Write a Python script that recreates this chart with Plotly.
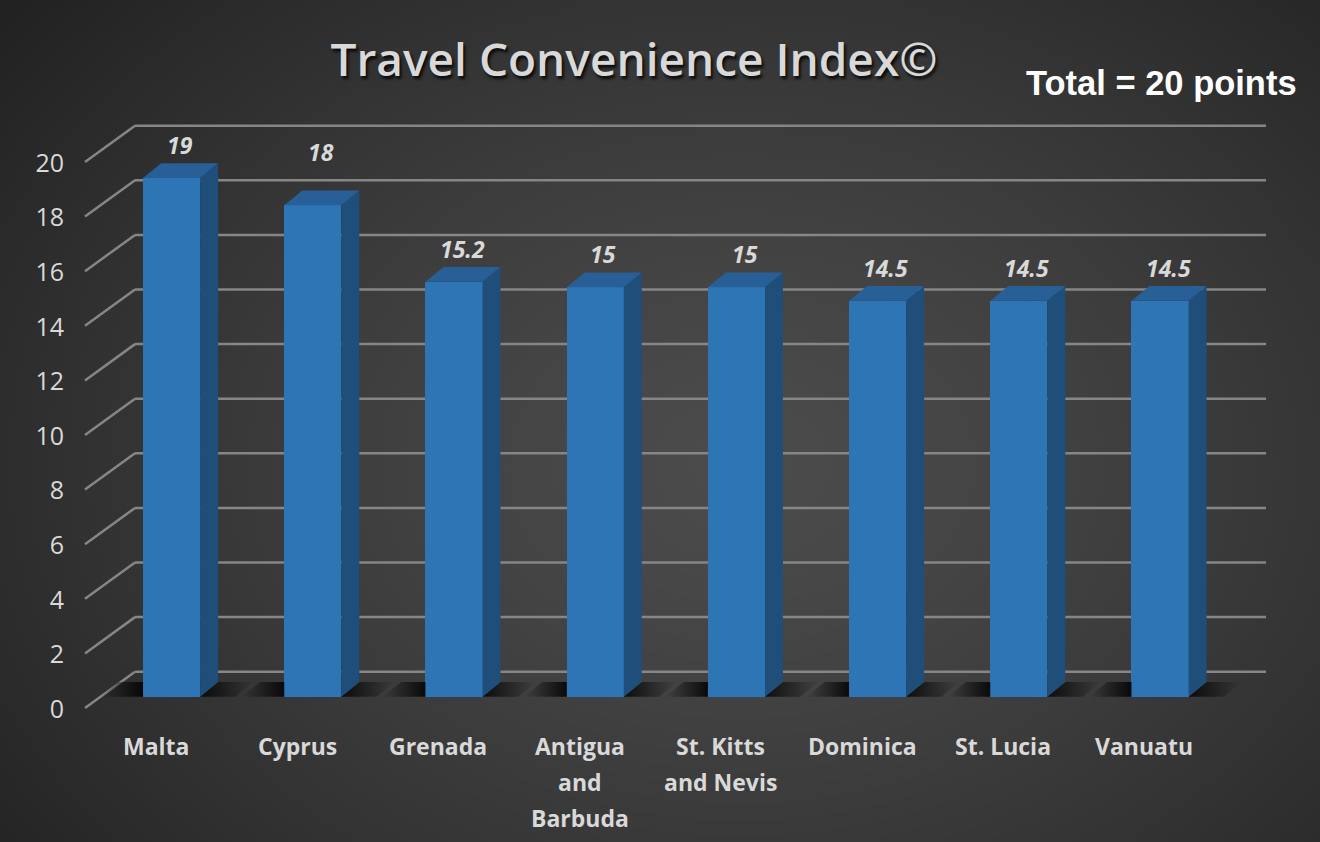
import base64
import struct
import zlib

import numpy as np
import plotly.graph_objects as go

# ---------------- data ----------------
countries = ["Malta", "Cyprus", "Grenada", "Antigua\nand\nBarbuda", "St. Kitts\nand Nevis",
             "Dominica", "St. Lucia", "Vanuatu"]
scores = [19, 18, 15.2, 15, 15, 14.5, 14.5, 14.5]
score_labels = ["19", "18", "15.2", "15", "15", "14.5", "14.5", "14.5"]
y_ticks = [0, 2, 4, 6, 8, 10, 12, 14, 16, 18, 20]
title_text = "Travel Convenience Index©"
note_text = "Total = 20 points"

# ---------------- layout geometry ----------------
W, H = 1320, 842
L, R, T, B = 80, 40, 100, 122
PW, PH = W - L - R, H - T - B
CAT_PX = 141.2          # pixels per category
UNIT_PX = 27.3          # pixels per value unit
X0_PX = 171.6           # pixel of first category centre
Y0_PX = 696.7           # pixel of bar base
x_range = [(L - X0_PX) / CAT_PX, (W - R - X0_PX) / CAT_PX]
y_range = [-(T + PH - Y0_PX) / UNIT_PX, (Y0_PX - T) / UNIT_PX]
LABEL_SHIFT = 0.45
y2_range = [y_range[0] + LABEL_SHIFT, y_range[1] + LABEL_SHIFT]

BAR_W = 0.404
DX, DY = 0.1275, 0.54   # 3D depth offset
BACK, FRONT = 0.915, -0.414
X_WALL = (135 - X0_PX) / CAT_PX
X_FRONT = (85 - X0_PX) / CAT_PX
X_END = (1266 - X0_PX) / CAT_PX

# label placement tweaks (pixels above the bar top), as in the original chart
LABEL_GAP = 18
LABEL_EXTRA = {"Cyprus": 21}

FRONT_C = "#2E75B6"
SIDE_C = "#1F4E7A"
TOP_C = "#275F96"
TEXT_C = "#D9D9D9"
GRID_C = "#868686"


def px_to_paper_x(px):
    return (px - L) / PW


def px_to_paper_y(py):
    return (T + PH - py) / PH


# ---------------- background image (radial gradient) ----------------
def png_uri(arr):
    h, w, _ = arr.shape
    raw = b"".join(b"\x00" + arr[i].tobytes() for i in range(h))

    def chunk(tag, data):
        return (struct.pack(">I", len(data)) + tag + data +
                struct.pack(">I", zlib.crc32(tag + data) & 0xFFFFFFFF))

    png = (b"\x89PNG\r\n\x1a\n" +
           chunk(b"IHDR", struct.pack(">IIBBBBB", w, h, 8, 2, 0, 0, 0)) +
           chunk(b"IDAT", zlib.compress(raw, 9)) + chunk(b"IEND", b""))
    return "data:image/png;base64," + base64.b64encode(png).decode()


gw, gh = 330, 210
yy, xx = np.mgrid[0:gh, 0:gw]
u = (xx / gw - 0.56) / 0.72
v = (yy / gh - 0.55) / 0.85
r = np.clip(np.sqrt(u ** 2 + v ** 2), 0, 1)
c = (76 - 42 * r ** 1.3).astype(np.uint8)
bg = np.stack([c, c, c], axis=-1).astype(np.uint8)
bg_uri = png_uri(bg)

# ---------------- figure ----------------
fig = go.Figure()
xs = list(range(len(scores)))

# floor shadows
for i, s in zip(xs, scores):
    xl = i - BAR_W / 2
    xr = i + BAR_W / 2
    # left shadow
    fig.add_trace(go.Scatter(
        x=[xl - 0.3, xl, xl, xl - 0.3 + DX, xl - 0.3],
        y=[0, 0, DY, DY, 0], mode="lines", line=dict(width=0), fill="toself",
        fillgradient=dict(type="horizontal",
                          colorscale=[[0, "rgba(0,0,0,0)"], [1, "rgba(0,0,0,0.85)"]]),
        hoverinfo="skip", showlegend=False))
    # right shadow
    fig.add_trace(go.Scatter(
        x=[xr, xr + 0.25, xr + 0.25 + DX, xr + DX, xr],
        y=[0, 0, DY, DY, 0], mode="lines", line=dict(width=0), fill="toself",
        fillgradient=dict(type="horizontal",
                          colorscale=[[0, "rgba(0,0,0,0.8)"], [1, "rgba(0,0,0,0)"]]),
        hoverinfo="skip", showlegend=False))

# front faces
fig.add_trace(go.Bar(x=xs, y=scores, width=BAR_W, marker=dict(color=FRONT_C, line=dict(width=0)),
                     hoverinfo="skip", showlegend=False))

# side and top faces
sx, sy = [], []
tx, ty = [], []
for i, s in zip(xs, scores):
    xr = i + BAR_W / 2
    xl = i - BAR_W / 2
    sx += [xr, xr + DX, xr + DX, xr, xr, None]
    sy += [0, DY, s + DY, s, 0, None]
    tx += [xl, xr, xr + DX, xl + DX, xl, None]
    ty += [s, s, s + DY, s + DY, s, None]
fig.add_trace(go.Scatter(x=sx, y=sy, mode="lines", line=dict(width=0), fill="toself",
                         fillcolor=SIDE_C, hoverinfo="skip", showlegend=False))
fig.add_trace(go.Scatter(x=tx, y=ty, mode="lines", line=dict(width=0), fill="toself",
                         fillcolor=TOP_C, hoverinfo="skip", showlegend=False))

# dummy trace for tick-label axis
fig.add_trace(go.Scatter(x=[0], y=[0], yaxis="y2", mode="markers", opacity=0,
                         hoverinfo="skip", showlegend=False))

# gridlines (back wall + side wall diagonals)
shapes = []
for t in y_ticks:
    shapes.append(dict(type="line", xref="x", yref="y", x0=X_WALL, y0=t + BACK,
                       x1=X_END, y1=t + BACK, line=dict(color=GRID_C, width=2.5), layer="below"))
    shapes.append(dict(type="line", xref="x", yref="y", x0=X_FRONT, y0=t + FRONT,
                       x1=X_WALL, y1=t + BACK, line=dict(color=GRID_C, width=2.5), layer="below"))

annotations = []
# value labels
for i, s, lab, name in zip(xs, scores, score_labels, countries):
    annotations.append(dict(
        x=i + DX * 0.45, xref="x", y=s + DY, yref="y", text=lab, showarrow=False,
        xanchor="center", yanchor="middle",
        yshift=LABEL_GAP + LABEL_EXTRA.get(name, 0),
        font=dict(family="Open Sans", size=23, color=TEXT_C, weight="bold", style="italic")))

# category labels
LINE_H = 36
for i, name in zip(xs, countries):
    for k, line in enumerate(name.split("\n")):
        annotations.append(dict(
            x=i - 0.11, xref="x", y=px_to_paper_y(746), yref="paper",
            text=line, showarrow=False, xanchor="center", yanchor="middle",
            yshift=-LINE_H * k,
            font=dict(family="Open Sans", size=23, color=TEXT_C, weight="bold")))

annotations.append(dict(
    x=px_to_paper_x(1161), xref="paper", y=px_to_paper_y(83), yref="paper",
    text=note_text, showarrow=False, xanchor="center", yanchor="middle",
    font=dict(family="Liberation Sans", size=34.5, color="#FFFFFF", weight="bold")))

fig.update_layout(
    width=W, height=H, autosize=False,
    margin=dict(l=L, r=R, t=T, b=B),
    paper_bgcolor="#333333", plot_bgcolor="rgba(0,0,0,0)",
    title=dict(text=title_text, x=634 / W, xref="container", xanchor="center",
               y=1 - 60 / H, yref="container", yanchor="middle",
               font=dict(family="Open Sans", size=46, color=TEXT_C, weight=600,
                         shadow="2px 3px 3px rgba(0,0,0,0.8)")),
    xaxis=dict(range=x_range, visible=False, fixedrange=True),
    yaxis=dict(range=y_range, visible=False, fixedrange=True),
    yaxis2=dict(range=y2_range, overlaying="y", side="left", anchor="x",
                tickvals=y_ticks, ticktext=[str(t) for t in y_ticks],
                showgrid=False, zeroline=False, showline=False, ticks="",
                ticklabelstandoff=15,
                tickfont=dict(family="Open Sans", size=25, color=TEXT_C)),
    shapes=shapes,
    annotations=annotations,
    images=[dict(source=bg_uri, xref="paper", yref="paper",
                 x=-L / PW, y=1 + T / PH, sizex=W / PW, sizey=H / PH,
                 xanchor="left", yanchor="top", sizing="stretch", layer="below")],
    bargap=0,
)

fig.write_html("out.html")
